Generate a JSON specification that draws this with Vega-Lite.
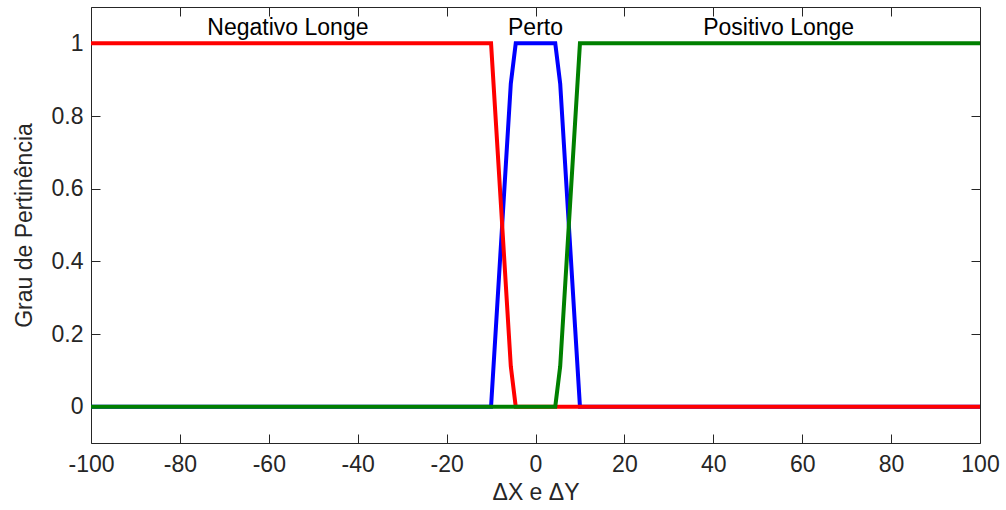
{
  "$schema": "https://vega.github.io/schema/vega-lite/v6.json",
  "width": 889,
  "height": 436,
  "autosize": {"type": "none"},
  "padding": {"left": 91, "top": 7, "right": 26, "bottom": 67},
  "background": "white",
  "config": {
    "font": "Liberation Sans",
    "view": {"stroke": null},
    "axis": {"grid": false, "domainColor": "#262626", "tickColor": "#262626", "labelColor": "#262626", "titleColor": "#262626", "labelFont": "Liberation Sans", "titleFont": "Liberation Sans", "labelFontSize": 23, "titleFontSize": 23, "titleFontWeight": "normal", "domainWidth": 1, "tickWidth": 1}
  },
  "datasets": {
    "mf": [
      {"x": -100, "y": 0, "s": "Perto"},
      {"x": -10, "y": 0, "s": "Perto"},
      {"x": -8.889, "y": 0.222, "s": "Perto"},
      {"x": -7.778, "y": 0.444, "s": "Perto"},
      {"x": -6.667, "y": 0.667, "s": "Perto"},
      {"x": -5.556, "y": 0.889, "s": "Perto"},
      {"x": -4.444, "y": 1, "s": "Perto"},
      {"x": 4.444, "y": 1, "s": "Perto"},
      {"x": 5.556, "y": 0.889, "s": "Perto"},
      {"x": 6.667, "y": 0.667, "s": "Perto"},
      {"x": 7.778, "y": 0.444, "s": "Perto"},
      {"x": 8.889, "y": 0.222, "s": "Perto"},
      {"x": 10, "y": 0, "s": "Perto"},
      {"x": 100, "y": 0, "s": "Perto"},
      {"x": -100, "y": 1, "s": "Negativo Longe"},
      {"x": -10, "y": 1, "s": "Negativo Longe"},
      {"x": -8.889, "y": 0.778, "s": "Negativo Longe"},
      {"x": -7.778, "y": 0.556, "s": "Negativo Longe"},
      {"x": -6.667, "y": 0.333, "s": "Negativo Longe"},
      {"x": -5.556, "y": 0.111, "s": "Negativo Longe"},
      {"x": -4.444, "y": 0, "s": "Negativo Longe"},
      {"x": 100, "y": 0, "s": "Negativo Longe"},
      {"x": -100, "y": 0, "s": "Positivo Longe"},
      {"x": 4.444, "y": 0, "s": "Positivo Longe"},
      {"x": 5.556, "y": 0.111, "s": "Positivo Longe"},
      {"x": 6.667, "y": 0.333, "s": "Positivo Longe"},
      {"x": 7.778, "y": 0.556, "s": "Positivo Longe"},
      {"x": 8.889, "y": 0.778, "s": "Positivo Longe"},
      {"x": 10, "y": 1, "s": "Positivo Longe"},
      {"x": 100, "y": 1, "s": "Positivo Longe"}
    ],
    "labels": [
      {"label": "Negativo Longe", "x": -55.7, "y": 1.022},
      {"label": "Perto", "x": 0, "y": 1.022},
      {"label": "Positivo Longe", "x": 54.7, "y": 1.022}
    ]
  },
  "layer": [
    {
      "data": {"name": "mf"},
      "transform": [{"filter": "datum.s === 'Perto'"}],
      "mark": {"type": "line", "color": "#0000ff", "strokeWidth": 4, "clip": true},
      "encoding": {
        "x": {"field": "x", "type": "quantitative", "scale": {"domain": [-100, 100], "nice": false, "zero": false},
              "axis": {"orient": "bottom", "title": "ΔX e ΔY", "values": [-100, -80, -60, -40, -20, 0, 20, 40, 60, 80, 100], "tickSize": -9, "labelPadding": 19, "titlePadding": 5, "labelExpr": "replace(datum.label, '−', '-')", "labelFlush": false}},
        "y": {"field": "y", "type": "quantitative", "scale": {"domain": [-0.1, 1.1], "nice": false, "zero": false},
              "axis": {"orient": "left", "title": "Grau de Pertinência", "values": [0, 0.2, 0.4, 0.6, 0.8, 1], "format": "~g", "tickSize": -9, "labelPadding": 17, "titlePadding": 15}}
      }
    },
    {
      "data": {"name": "mf"},
      "transform": [{"filter": "datum.s === 'Negativo Longe'"}],
      "mark": {"type": "line", "color": "#ff0000", "strokeWidth": 4, "clip": true},
      "encoding": {
        "x": {"field": "x", "type": "quantitative", "axis": {"orient": "top", "title": null, "labels": false, "values": [-100, -80, -60, -40, -20, 0, 20, 40, 60, 80, 100], "tickSize": -9}},
        "y": {"field": "y", "type": "quantitative", "axis": {"orient": "right", "title": null, "labels": false, "values": [0, 0.2, 0.4, 0.6, 0.8, 1], "tickSize": -9}}
      }
    },
    {
      "data": {"name": "mf"},
      "transform": [{"filter": "datum.s === 'Positivo Longe'"}],
      "mark": {"type": "line", "color": "#008000", "strokeWidth": 4, "clip": true},
      "encoding": {
        "x": {"field": "x", "type": "quantitative", "axis": null},
        "y": {"field": "y", "type": "quantitative", "axis": null}
      }
    },
    {
      "data": {"name": "labels"},
      "mark": {"type": "text", "fontSize": 23, "color": "#000000", "font": "Liberation Sans", "align": "center", "baseline": "alphabetic"},
      "encoding": {
        "x": {"field": "x", "type": "quantitative", "axis": null},
        "y": {"field": "y", "type": "quantitative", "axis": null},
        "text": {"field": "label"}
      }
    }
  ],
  "resolve": {"axis": {"x": "independent", "y": "independent"}}
}
